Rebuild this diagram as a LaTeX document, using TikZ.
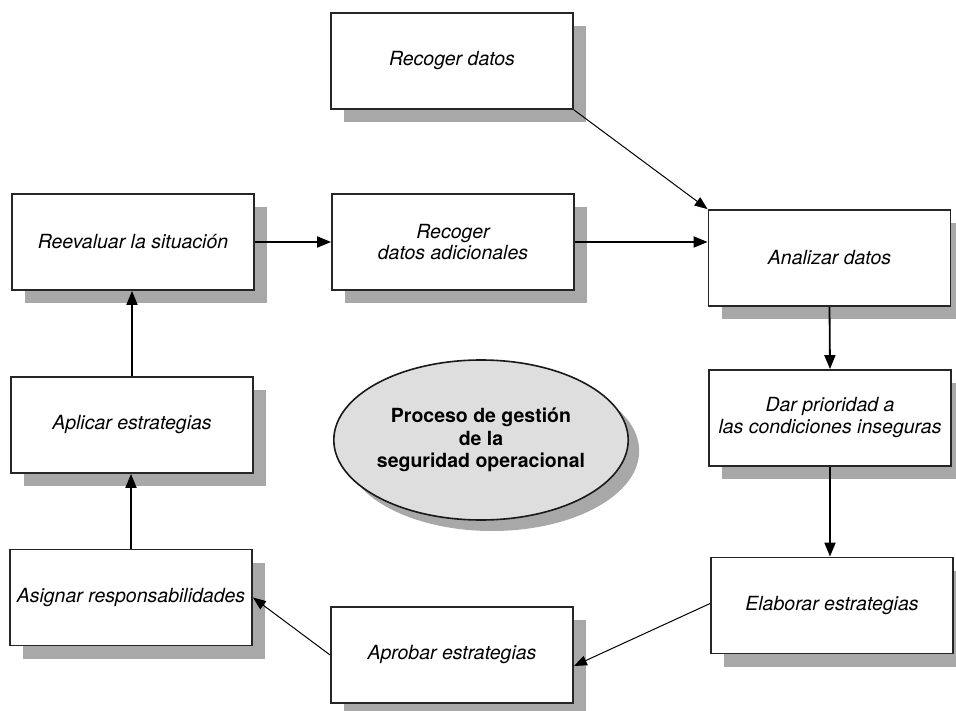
\documentclass[tikz,border=0pt]{standalone}
\usepackage{fontspec}
\setmainfont{TeX Gyre Heros}
\usetikzlibrary{shapes.geometric,shadows,arrows.meta,calc}
\definecolor{shadowgray}{HTML}{A8A8A8}
\definecolor{ellfill}{HTML}{DEDEDE}
\tikzset{
  box/.style={draw=black!85, line width=1.8pt, fill=white, rectangle,
    minimum width=242pt, minimum height=96pt, inner sep=0pt, align=center,
    font=\fontsize{19.5pt}{21.5pt}\selectfont\itshape,
    drop shadow={shadow xshift=13pt, shadow yshift=-13pt, fill=shadowgray, opacity=1}},
  thickarrow/.style={line width=1.8pt, -{Triangle[length=14pt,width=11pt]}},
  thinarrow/.style={line width=1pt, -{Triangle[length=13pt,width=10pt]}},
  ell/.style={draw=black!90, line width=1.6pt, fill=ellfill, ellipse,
    minimum width=288pt, minimum height=160pt, inner sep=0pt, align=center,
    font=\fontsize{19.5pt}{22.5pt}\selectfont\bfseries,
    drop shadow={shadow xshift=11pt, shadow yshift=-11pt, fill=shadowgray, opacity=1}}
}
\begin{document}
\begin{tikzpicture}[x=1pt,y=-1pt]
\useasboundingbox (0,0) rectangle (956,711);
\node[box] (rd)  at (452,61)    {Recoger datos};
\node[box] (rda) at (453,242)   {Recoger\\datos adicionales};
\node[box] (an)  at (829.5,258) {Analizar datos};
\node[box] (dp)  at (830,418)   {\raisebox{14pt}{\begin{tabular}{@{}c@{}}Dar prioridad a\\las condiciones inseguras\end{tabular}}};
\node[box] (el)  at (832,605.5) {Elaborar estrategias};
\node[box] (ap)  at (452,655)   {Aprobar estrategias};
\node[box] (as)  at (131,597.5) {Asignar responsabilidades};
\node[box] (apl) at (132,425)   {Aplicar estrategias};
\node[box] (re)  at (133,242)   {Reevaluar la situación};
\node[ell] (pg)  at (481,440)   {Proceso de gestión\\de la\\seguridad operacional};

\draw[thinarrow] (rd.south east) -- (an.north west);
\draw[thickarrow] (re.east) -- (rda.west);
\draw[thickarrow] (rda.east) -- (rda.east -| an.west);
\draw[thickarrow] (an.south) -- (dp.north);
\draw[thickarrow] (dp.south) -- (dp.south |- el.north);
\draw[thinarrow] ([yshift=2pt]el.west) -- ([yshift=-11pt]ap.east);
\draw[thinarrow] (ap.west) -- (as.east);
\draw[thickarrow] (as.north) -- (as.north |- apl.south);
\draw[thickarrow] (apl.north) -- (apl.north |- re.south);
\end{tikzpicture}
\end{document}
